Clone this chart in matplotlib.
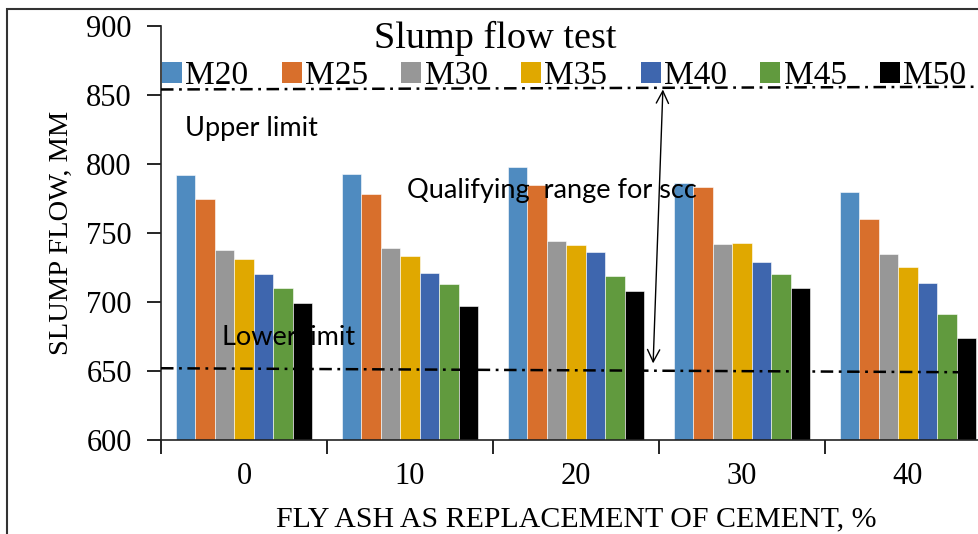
import matplotlib
matplotlib.use('Agg')
import matplotlib.pyplot as plt
import numpy as np
from matplotlib.patches import Patch, Rectangle

# data
fly_ash = ['0', '10', '20', '30', '40']
grades = ['M20', 'M25', 'M30', 'M35', 'M40', 'M45', 'M50']
slump = {
    'M20': [792, 793, 798, 786, 780],
    'M25': [775, 778, 785, 783, 760],
    'M30': [738, 739, 744, 742, 735],
    'M35': [731, 733, 741, 743, 725],
    'M40': [720, 721, 736, 729, 714],
    'M45': [710, 713, 719, 720, 691],
    'M50': [699, 697, 708, 710, 674],
}
colors = ['#4F8BC0', '#D86F2C', '#979797', '#E0A800', '#3E66AE', '#619A3E', '#000000']
upper_limit = [854, 856]
lower_limit = [652, 649]

plt.rcParams['lines.scale_dashes'] = False
serif = 'Liberation Serif'
sans = 'Lato'

fig = plt.figure(figsize=(9.79, 5.34), dpi=100)
ax = fig.add_axes([161/979, 1-440/534, 830/979, 414/534])

x = np.arange(len(fly_ash))
w = 0.117
for i, g in enumerate(grades):
    ax.bar(x + (i-3)*w, slump[g], w, color=colors[i], edgecolor='white', linewidth=0.4, zorder=2)

ax.set_xlim(-0.5, 4.5)
ax.set_ylim(600, 900)
ax.set_yticks(np.arange(600, 901, 50))
ax.set_xticks(x)
ax.set_xticklabels(fly_ash)
ax.set_xticks(np.arange(-0.5, 4.6, 1), minor=True)
ax.tick_params(axis='x', which='major', length=0, pad=16, labelsize=22)
ax.tick_params(axis='x', which='minor', length=10, width=1.2, direction='out')
ax.tick_params(axis='y', length=10, width=1.2, pad=11, labelsize=22)
for lab in ax.get_xticklabels() + ax.get_yticklabels():
    lab.set_fontfamily(serif)
for s in ['top', 'right']:
    ax.spines[s].set_visible(False)
for s in ['left', 'bottom']:
    ax.spines[s].set_linewidth(1.2)
    ax.spines[s].set_color('#222222')

ax.set_xlabel('FLY ASH AS REPLACEMENT OF CEMENT, %', family=serif, fontsize=21.5, labelpad=11)
ax.set_ylabel('SLUMP FLOW, MM', family=serif, fontsize=20.5)
ax.yaxis.set_label_coords(-0.105, 0.5)

# limit lines and arrow
ax.plot([-0.5, 4.5], upper_limit, color='black', lw=1.8, linestyle=(0, (9, 4, 2, 4)), zorder=3, clip_on=False)
ax.plot([-0.5, 4.5], lower_limit, color='black', lw=1.8, linestyle=(0, (9, 4, 2, 4)), zorder=3, clip_on=False)
ax.annotate('', xy=(2.464, 653.5), xytext=(2.524, 856),
            arrowprops=dict(arrowstyle='<->', lw=1.0, color='black', mutation_scale=22), zorder=4)

ax.text(-0.355, 826, 'Upper limit', family=sans, fontsize=19.5, va='center', zorder=5)
ax.text(0.98, 781, 'Qualifying  range for scc', family=sans, fontsize=19.5, va='center', zorder=5)
ax.text(-0.133, 674, 'Lower limit', family=sans, fontsize=19.5, va='center', zorder=5)

fig.text(495/979, 1-38/534, 'Slump flow test', family=serif, fontsize=27.5, ha='center', va='center')

handles = [Patch(facecolor=c) for c in colors]
fig.legend(handles, grades, loc='center', bbox_to_anchor=(564/979, 1-76/534), ncol=7, frameon=False,
           prop={'family': serif, 'size': 24}, handlelength=0.6, handleheight=0.6,
           handletextpad=0.1, columnspacing=1.0, borderaxespad=0)

# outer border of the picture (cropped on right and bottom)
fig.patches.append(Rectangle((7/979, -0.2), 1.5, 1.2 - 9/534, transform=fig.transFigure,
                             fill=False, edgecolor='#333333', lw=1.5))

fig.savefig('out.png', dpi=100)
